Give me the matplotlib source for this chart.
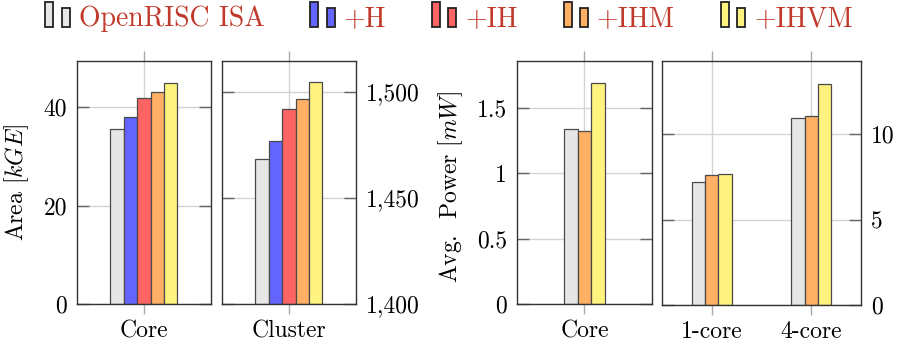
import matplotlib.pyplot as plt
import matplotlib.patches as mpatches
from matplotlib.legend_handler import HandlerBase

plt.rcParams['font.family'] = ['cmr10', 'DejaVu Serif']
plt.rcParams['mathtext.fontset'] = 'cm'
plt.rcParams['axes.formatter.use_mathtext'] = True

SERIES = ['OpenRISC ISA', '+H', '+IH', '+IHM', '+IHVM']
COLORS = ['#e6e6e6', '#6464ff', '#ff6464', '#ffb064', '#fff380']

# area, all five variants
area_core = [35.5, 38.1, 41.8, 43.0, 44.9]
area_cluster = [1468.1, 1477.0, 1491.8, 1496.7, 1504.4]

# power was only measured for ISA, +IHM and +IHVM
power_series = [0, 3, 4]
power_core = [1.341, 1.326, 1.691]
cluster_groups = ['1-core', '4-core']
power_cluster = [[7.21, 10.97], [7.60, 11.05], [7.70, 12.96]]

LABEL_FS = 17
EDGE = '#4a4a4a'


class TwoBars(HandlerBase):
    # pgfplots-style ybar legend icon: two little bars
    def create_artists(self, legend, orig_handle, xdescent, ydescent,
                       width, height, fontsize, trans):
        face = orig_handle.get_facecolor()
        w = width * 0.32
        a = mpatches.Rectangle((-xdescent, -ydescent), w, height * 1.24,
                               facecolor=face, edgecolor='#222222', lw=1.3,
                               transform=trans)
        b = mpatches.Rectangle((-xdescent + width * 0.66, -ydescent), w,
                               height * 0.93, facecolor=face,
                               edgecolor='#222222', lw=1.3, transform=trans)
        return [a, b]


def style(ax, yticks, ylabels, ylim, side):
    ax.set_ylim(*ylim)
    ax.set_yticks(yticks)
    ax.set_yticklabels(ylabels)
    ax.tick_params(axis='y', direction='in', length=8.5, width=1,
                   color='#666666', left=True, right=True,
                   labelleft=(side == 'left'), labelright=(side == 'right'),
                   labelsize=LABEL_FS, pad=7)
    ax.tick_params(axis='x', direction='out', length=7.5, width=1,
                   color='#aaaaaa', top=True, bottom=True,
                   labelsize=LABEL_FS, pad=4)
    ax.grid(True, color='#d4d4d4', linewidth=1)
    ax.set_axisbelow(True)
    for sp in ax.spines.values():
        sp.set_color('#333333')
        sp.set_linewidth(1)


fig = plt.figure(figsize=(8.98, 3.5), dpi=100)
ax1 = fig.add_axes([0.0857, 0.1314, 0.1492, 0.6943])
ax2 = fig.add_axes([0.2472, 0.1314, 0.1492, 0.6943])
ax3 = fig.add_axes([0.5757, 0.1314, 0.1503, 0.6943])
ax4 = fig.add_axes([0.7372, 0.1286, 0.2216, 0.6971])

bw = 0.1
for i, c in enumerate(COLORS):
    off = (i - 2) * bw
    ax1.bar(off, area_core[i], bw, color=c, edgecolor=EDGE, lw=0.9)
    ax2.bar(off, area_cluster[i] - 1400, bw, bottom=1400, color=c,
            edgecolor=EDGE, lw=0.9)

for ax, name in ((ax1, 'Core'), (ax2, 'Cluster')):
    ax.set_xlim(-0.5, 0.5)
    ax.set_xticks([0])
    ax.set_xticklabels([name])

style(ax1, [0, 20, 40], ['0', '20', '40'], (0, 49.4), 'left')
style(ax2, [1400, 1450, 1500], ['1,400', '1,450', '1,500'], (1400, 1514.5),
      'right')
ax1.set_ylabel('Area [$kGE$]', fontsize=LABEL_FS)
ax1.yaxis.set_label_coords(-0.345, 0.5)

# power panels
for k, si in enumerate(power_series):
    off = (k - 1) * bw
    ax3.bar(off, power_core[k], bw, color=COLORS[si], edgecolor=EDGE, lw=0.9)
    xs = [g + (k - 1) * 0.134 for g in range(len(cluster_groups))]
    ax4.bar(xs, power_cluster[k], 0.134, color=COLORS[si], edgecolor=EDGE,
            lw=0.9)

ax3.set_xlim(-0.5, 0.5)
ax3.set_xticks([0])
ax3.set_xticklabels(['Core'])
ax4.set_xlim(-0.5, 1.5)
ax4.set_xticks(range(len(cluster_groups)))
ax4.set_xticklabels(cluster_groups)

style(ax3, [0, 0.5, 1, 1.5], ['0', '0.5', '1', '1.5'], (0, 1.86), 'left')
style(ax4, [0, 5, 10], ['0', '5', '10'], (0, 14.29), 'right')
ax3.set_ylabel('Avg.  Power [$mW$]', fontsize=LABEL_FS)
ax3.yaxis.set_label_coords(-0.385, 0.48)

handles = [mpatches.Patch(facecolor=c) for c in COLORS]
fig.legend(handles, SERIES, loc='center', bbox_to_anchor=(0.5, 0.945),
           ncol=5, frameon=False, fontsize=20, handlelength=0.9,
           handletextpad=0.3, columnspacing=1.65, labelcolor='#c0392b',
           handler_map={mpatches.Patch: TwoBars()})

fig.savefig('out.png', dpi=100)
